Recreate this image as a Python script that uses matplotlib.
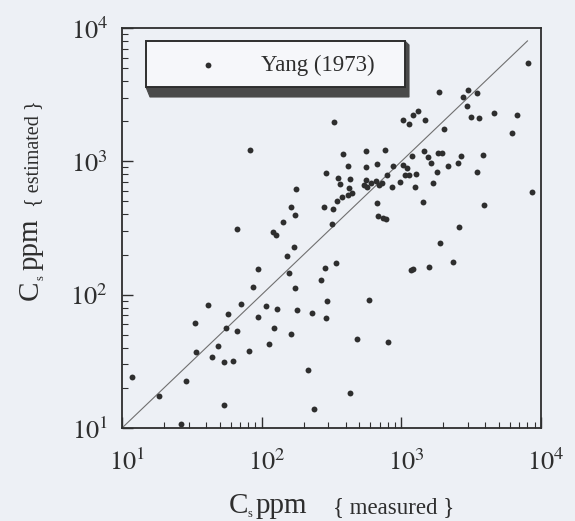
import matplotlib
matplotlib.use("Agg")
import matplotlib.pyplot as plt
from matplotlib.patches import Polygon, Rectangle
from matplotlib.lines import Line2D
from matplotlib.ticker import LogLocator, NullFormatter
from matplotlib.transforms import ScaledTranslation

# Sediment concentration, measured vs. estimated (ppm)
measured = [
    8090, 1866, 2773, 3013, 3459, 2931, 1310, 1217, 1021, 1139, 1476, 3133, 3612,
    4603, 6763, 6165, 2018, 331, 82.4, 380, 558, 764, 1452, 1837, 1942, 3820, 2655,
    1186, 1559, 1623, 2167, 2553, 417, 558, 672, 866, 1021, 1102, 1807, 3459, 289,
    353, 428, 558, 542, 565, 603, 657, 722, 785, 853, 695, 1062, 1139, 1273, 977,
    1250, 1690, 363, 424, 441, 413, 374, 344, 176, 8570, 1436, 665, 3880, 279, 322,
    161, 173, 680, 743, 777, 141, 317, 2594, 66.2, 121, 127, 1888, 170, 153, 2355,
    340, 1167, 1206, 1578, 94.6, 284, 157, 266, 86.3, 173, 589, 292, 41.0, 70.8,
    107, 128, 180, 57.1, 228, 94.6, 289, 33.3, 55.5, 123, 66.2, 161, 479, 805, 113,
    48.9, 33.7, 81.1, 44.3, 53.7, 61.9, 11.7, 216, 28.6, 18.5, 428, 54.0, 238, 26.4,
]
estimated = [
    5450, 3335, 3055, 3435, 3274, 2606, 2390, 2230, 2045, 1908, 2045, 2144, 2106,
    2318, 2230, 1625, 1741, 1963, 1219, 1137, 1203, 1219, 1203, 1150, 1150, 1117, 1099,
    1099, 1075, 978, 929, 968, 929, 913, 956, 929, 940, 888, 837, 837, 823,
    747, 738, 725, 665, 646, 685, 716, 692, 790, 646, 665, 790, 790, 800, 705,
    640, 685, 673, 628, 582, 560, 543, 504, 618, 586, 499, 490, 469, 452, 440,
    452, 396, 389, 374, 368, 348, 339, 324, 311, 297, 281, 243, 227, 195, 177,
    174, 153, 155, 162, 156, 158, 145, 129, 114, 112, 91.2, 89.7, 83.8, 85.2,
    82.3, 78.1, 76.8, 71.6, 73.3, 67.6, 67.1, 60.9, 56.5, 56.5, 53.7, 50.4, 46.3, 43.9, 42.7,
    41.2, 37.4, 38.0, 34.3, 31.1, 32.0, 24.0, 27.2, 22.5, 17.5, 18.4, 14.9, 13.9, 10.8,
]
axis_ticks = [10, 100, 1000, 10000]
tick_labels = [r"$10^{1}$", r"$10^{2}$", r"$10^{3}$", r"$10^{4}$"]
series_label = "Yang (1973)"
x_note = "{ measured }"
y_note = "{ estimated }"

paper = "#edf0f5"
ink = "#2e2e2e"

plt.rcParams["font.family"] = ["Liberation Serif", "DejaVu Serif"]
plt.rcParams["mathtext.fontset"] = "stix"

W, H = 575, 521
fig = plt.figure(figsize=(W / 100, H / 100), dpi=100, facecolor=paper)


def P(x, y):
    """Pixel position (from top-left) to figure fraction."""
    return (x / W, 1 - y / H)


ax = fig.add_axes([122 / W, 1 - 428 / H, 419 / W, 400 / H])
ax.set_facecolor(paper)
ax.set_xscale("log")
ax.set_yscale("log")
ax.set_xlim(10, 1e4)
ax.set_ylim(10, 1e4)

# line of perfect agreement
ax.plot([10, 8000], [10, 8000], color="#707070", lw=0.8, zorder=2)
ax.scatter(measured, estimated, s=18, color=ink, linewidths=0, zorder=3)

ax.set_xticks(axis_ticks)
ax.set_xticklabels(tick_labels)
ax.set_yticks(axis_ticks)
ax.set_yticklabels(tick_labels)
ax.xaxis.set_minor_locator(LogLocator(base=10, subs=range(2, 10)))
ax.yaxis.set_minor_locator(LogLocator(base=10, subs=range(2, 10)))
ax.xaxis.set_minor_formatter(NullFormatter())
ax.yaxis.set_minor_formatter(NullFormatter())

ax.tick_params(which="both", direction="in", top=False, right=False, colors=ink)
ax.tick_params(which="major", length=8, width=1.0)
ax.tick_params(which="minor", length=4.5, width=0.8)
ax.tick_params(axis="x", which="major", pad=15, labelsize=19, labelcolor=ink)
ax.tick_params(axis="y", which="major", pad=10, labelsize=19, labelcolor=ink)
for sp in ax.spines.values():
    sp.set_color(ink)
    sp.set_linewidth(1.3)

shift = ScaledTranslation(5 / 100, 0, fig.dpi_scale_trans)
for lbl in ax.get_xticklabels():
    lbl.set_transform(lbl.get_transform() + shift)

# legend box with extruded shadow
tf = fig.transFigure
shadow = Polygon([P(146, 87), P(150, 97), P(409, 97), P(409, 45), P(405, 41)],
                 closed=True, transform=tf, facecolor="#4a4a4a", edgecolor="#4a4a4a",
                 lw=0.8, zorder=5)
fig.add_artist(shadow)
box_x0, box_y0 = P(146, 87)
box_x1, box_y1 = P(405, 41)
box = Rectangle((box_x0, box_y0), box_x1 - box_x0, box_y1 - box_y0, transform=tf,
                facecolor="#f6f7fa", edgecolor=ink, lw=1.4, zorder=6)
fig.add_artist(box)
fig.add_artist(Line2D([P(208, 65)[0]], [P(208, 65)[1]], marker="o", markersize=4.2,
                      color=ink, markeredgewidth=0, linestyle="none", transform=tf,
                      zorder=7))
fig.text(*P(261, 65), series_label, fontsize=16.5, color=ink, ha="left", va="center",
         zorder=7)

# y-axis title: C_s ppm { estimated }
fig.text(*P(38, 300), "C", rotation=90, rotation_mode="anchor", ha="left",
         va="baseline", fontsize=21, color=ink)
fig.text(*P(43, 280), "s", rotation=90, rotation_mode="anchor", ha="left",
         va="baseline", fontsize=9, color=ink)
fig.text(*P(38, 270), "ppm", rotation=90, rotation_mode="anchor", ha="left",
         va="baseline", fontsize=21, color=ink)
fig.text(*P(38, 207), y_note, rotation=90, rotation_mode="anchor", ha="left",
         va="baseline", fontsize=14.5, color=ink)

# x-axis title: C_s ppm { measured }
fig.text(*P(229, 513), "C", ha="left", va="baseline", fontsize=21, color=ink)
fig.text(*P(248, 517), "s", ha="left", va="baseline", fontsize=9, color=ink)
fig.text(*P(256, 513), "ppm", ha="left", va="baseline", fontsize=21, color=ink)
fig.text(*P(333, 513), x_note, ha="left", va="baseline", fontsize=16.5, color=ink)

fig.savefig("out.png", dpi=100, facecolor=paper)
